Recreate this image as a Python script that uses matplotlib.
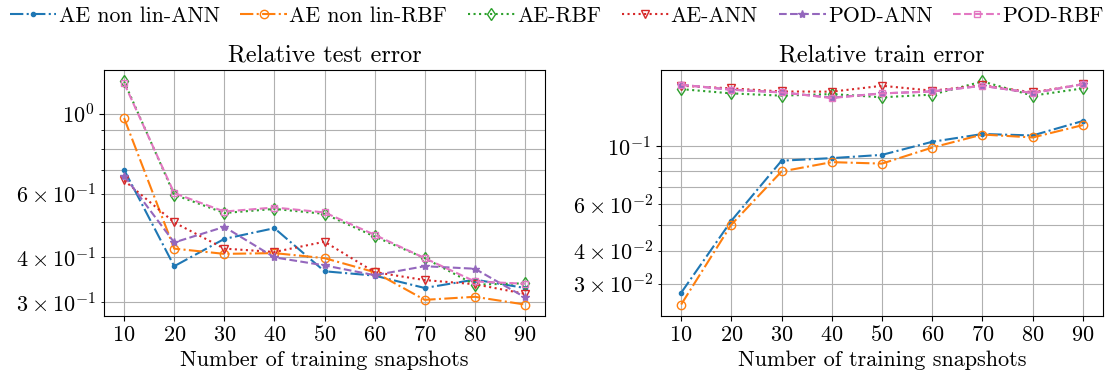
import numpy as np
import matplotlib
matplotlib.use("Agg")
from matplotlib import pyplot as plt

plt.rcParams['font.family'] = 'serif'
plt.rcParams['font.serif'] = ['cmr10']
plt.rcParams['mathtext.fontset'] = 'cm'
plt.rcParams['axes.formatter.use_mathtext'] = True
plt.rcParams['axes.unicode_minus'] = False
plt.rcParams['font.size'] = 14
plt.rcParams['xtick.labelsize'] = 16
plt.rcParams['ytick.labelsize'] = 16

snapshots = [10, 20, 30, 40, 50, 60, 70, 80, 90]
labels = ['AE non lin-ANN', 'AE non lin-RBF', 'AE-RBF', 'AE-ANN', 'POD-ANN', 'POD-RBF']

# relative test error
test_ae_nonlin_ann = [0.699, 0.377, 0.449, 0.481, 0.365, 0.355, 0.328, 0.346, 0.328]
test_ae_nonlin_rbf = [0.973, 0.422, 0.408, 0.410, 0.397, 0.363, 0.304, 0.310, 0.295]
test_ae_rbf = [1.23, 0.596, 0.530, 0.544, 0.527, 0.456, 0.397, 0.335, 0.338]
test_ae_ann = [0.653, 0.499, 0.422, 0.413, 0.441, 0.363, 0.345, 0.336, 0.316]
test_pod_ann = [0.673, 0.439, 0.485, 0.399, 0.379, 0.356, 0.377, 0.371, 0.309]
test_pod_rbf = [1.217, 0.602, 0.535, 0.549, 0.532, 0.461, 0.397, 0.342, 0.337]

# relative train error
train_ae_nonlin_ann = [0.0277, 0.0520, 0.0879, 0.0899, 0.0925, 0.1037, 0.1110, 0.1096, 0.1244]
train_ae_nonlin_rbf = [0.0250, 0.0503, 0.0800, 0.0868, 0.0857, 0.0986, 0.1105, 0.1077, 0.1200]
train_ae_rbf = [0.1643, 0.1583, 0.1552, 0.1574, 0.1530, 0.1566, 0.1757, 0.1552, 0.1654]
train_ae_ann = [0.1692, 0.1654, 0.1610, 0.1607, 0.1692, 0.1621, 0.1700, 0.1597, 0.1716]
train_pod_ann = [0.1707, 0.1635, 0.1597, 0.1525, 0.1583, 0.1610, 0.1692, 0.1587, 0.1716]
train_pod_rbf = [0.1707, 0.1635, 0.1597, 0.1520, 0.1583, 0.1610, 0.1692, 0.1587, 0.1716]

styles = [
    dict(color='tab:blue', ls='-.', marker='.'),
    dict(color='tab:orange', ls='-.', marker='o', mfc='none', ms=6),
    dict(color='tab:green', ls=':', marker='d', mfc='none', ms=6),
    dict(color='tab:red', ls=':', marker='v', mfc='none', ms=6),
    dict(color='tab:purple', ls='--', marker='*', ms=6),
    dict(color='tab:pink', ls='--', marker='s', mfc='none', ms=5),
]

test_series = [test_ae_nonlin_ann, test_ae_nonlin_rbf, test_ae_rbf,
               test_ae_ann, test_pod_ann, test_pod_rbf]
train_series = [train_ae_nonlin_ann, train_ae_nonlin_rbf, train_ae_rbf,
                train_ae_ann, train_pod_ann, train_pod_rbf]

fig = plt.figure(figsize=(11.14, 3.77), dpi=100)
ax1 = fig.add_axes([0.0934, 0.1626, 0.3958, 0.6509])
ax2 = fig.add_axes([0.5934, 0.1626, 0.3967, 0.6509])

for ax, series, title in [(ax1, test_series, 'Relative test error'),
                          (ax2, train_series, 'Relative train error')]:
    for vals, lab, st in zip(series, labels, styles):
        ax.plot(snapshots, vals, label=lab, lw=1.5, **st)
    ax.set_yscale('log')
    ax.set_xticks(snapshots)
    ax.set_xlabel('Number of training snapshots', fontsize=16)
    ax.set_title(title, fontsize=17.5)
    ax.grid(True, which='both')

handles, labs = ax1.get_legend_handles_labels()
fig.legend(handles, labs, loc='upper left', ncol=6, frameon=False, fontsize=15.7,
           bbox_to_anchor=(-0.009, 1.035), columnspacing=0.95, handlelength=2.15,
           handletextpad=0.1)

fig.savefig('out.png', dpi=100)
